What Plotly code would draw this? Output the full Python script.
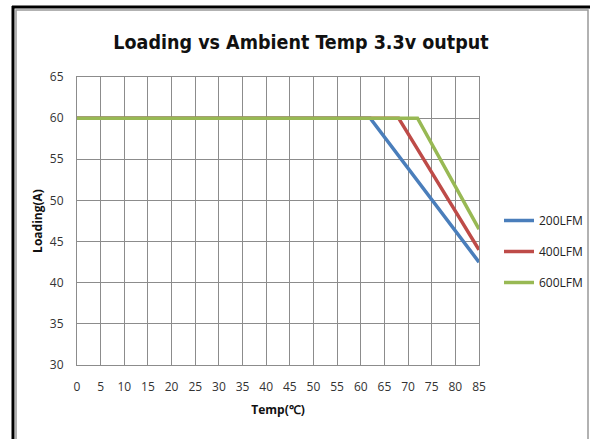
import plotly.graph_objects as go

# Data
temp_200 = [0, 62, 85]
load_200 = [60, 60, 42.5]
temp_400 = [0, 68, 85]
load_400 = [60, 60, 44]
temp_600 = [0, 72, 85]
load_600 = [60, 60, 46.5]
series_names = ["200LFM", "400LFM", "600LFM"]
colors = ["#4A7EBB", "#BE4B48", "#98B954"]
x_ticks = list(range(0, 90, 5))
y_ticks = list(range(30, 70, 5))

font_family = "Open Sans, sans-serif"
title_family = "DejaVu Sans Condensed, Open Sans, sans-serif"

fig = go.Figure()
for i, (xs, ys) in enumerate([(temp_200, load_200), (temp_400, load_400), (temp_600, load_600)]):
    fig.add_trace(go.Scatter(
        x=xs, y=ys, mode="lines", name=series_names[i],
        line=dict(color=colors[i], width=3.5),
        legendgroup=series_names[i],
    ))

L, R, T, B = 77, 111, 77, 74
W, H = 590, 439
pw, ph = W - L - R, H - T - B

def px(x):
    return (x - L) / pw

def py(y):
    return (H - B - y) / ph

shapes = [
    # gray chart frame
    dict(type="rect", xref="paper", yref="paper", x0=px(16), x1=px(588), y0=py(460), y1=py(10),
         line=dict(color="#999999", width=1.5), fillcolor="rgba(0,0,0,0)", layer="below"),
    # black outer lines
    dict(type="line", xref="paper", yref="paper", x0=px(12), x1=px(600), y0=py(7), y1=py(7),
         line=dict(color="#000000", width=3)),
    dict(type="line", xref="paper", yref="paper", x0=px(13), x1=px(13), y0=py(6), y1=py(460),
         line=dict(color="#000000", width=3)),
]

fig.update_layout(
    width=W, height=H,
    margin=dict(l=L, r=R, t=T, b=B, autoexpand=False),
    paper_bgcolor="white", plot_bgcolor="white",
    font=dict(family=font_family, size=12, color="#333333"),
    title=dict(text="<b>Loading vs Ambient Temp 3.3v output</b>", x=px(301), xanchor="center",
               xref="paper", y=1 - 42 / H, yanchor="middle",
               font=dict(family=title_family, size=19.5, color="#111111")),
    xaxis=dict(range=[0, 85], tickvals=x_ticks, showgrid=True, gridcolor="#8C8C8C", gridwidth=1,
               showline=True, linecolor="#8C8C8C", mirror=True, zeroline=False, ticks="",
               ticklabelstandoff=11,
               title=dict(text="<b>Temp(℃)</b>", font=dict(size=12, color="#111111"), standoff=11)),
    yaxis=dict(range=[30, 65], tickvals=y_ticks, showgrid=True, gridcolor="#8C8C8C", gridwidth=1,
               showline=True, linecolor="#8C8C8C", mirror=True, zeroline=False, ticks="",
               ticklabelstandoff=10,
               title=dict(text="<b>Loading(A)</b>", font=dict(size=12, color="#111111"), standoff=4)),
    legend=dict(x=px(499), y=py(206), xanchor="left", yanchor="top", tracegroupgap=12,
                font=dict(size=12, color="#222222"), bgcolor="rgba(0,0,0,0)"),
    shapes=shapes,
    showlegend=True,
)

fig.write_html("out.html", config={"displayModeBar": False},
               post_script="document.body.style.margin='0';document.body.style.overflow='hidden';")
